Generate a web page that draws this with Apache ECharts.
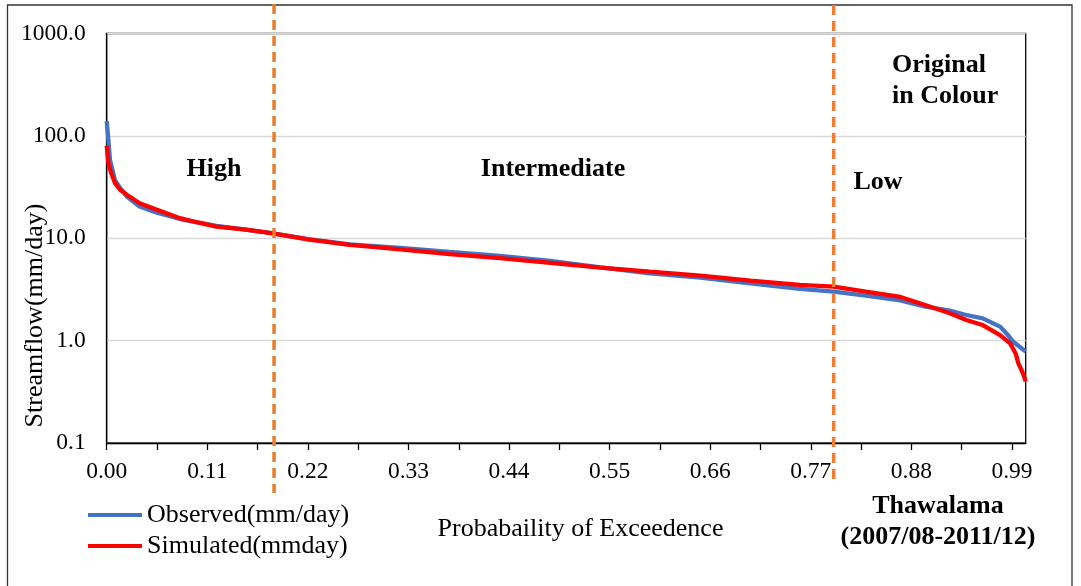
<!DOCTYPE html>
<html>
<head>
<meta charset="utf-8">
<script src="https://cdn.jsdelivr.net/npm/echarts@6/dist/echarts.min.js"></script>
<style>
html,body{margin:0;padding:0;background:#fff;}
#chart{width:1081px;height:586px;}
</style>
</head>
<body>
<div id="chart"></div>
<script>
// Exceedance probabilities and flows (mm/day)
const obsProb = [0, 0.0018, 0.0036, 0.009, 0.0146, 0.022, 0.036, 0.055, 0.08, 0.102, 0.12, 0.15, 0.18, 0.22, 0.266, 0.321, 0.375, 0.43, 0.485, 0.54, 0.594, 0.649, 0.704, 0.758, 0.795, 0.83, 0.868, 0.895, 0.922, 0.94, 0.958, 0.977, 0.985, 0.991, 1.005];
const obsFlow = [139, 92, 58, 37, 31, 25.6, 20.4, 17.8, 15.4, 14.1, 13.2, 12.2, 11.2, 9.8, 8.7, 8.05, 7.36, 6.73, 6.0, 5.2, 4.55, 4.13, 3.63, 3.2, 3.01, 2.75, 2.47, 2.15, 1.96, 1.78, 1.65, 1.37, 1.15, 0.98, 0.78];
const simProb = [0, 0.0018, 0.0036, 0.009, 0.0146, 0.022, 0.036, 0.055, 0.08, 0.102, 0.12, 0.15, 0.18, 0.22, 0.266, 0.321, 0.375, 0.43, 0.485, 0.54, 0.594, 0.649, 0.704, 0.758, 0.795, 0.83, 0.868, 0.895, 0.922, 0.94, 0.958, 0.977, 0.988, 0.994, 0.997, 1.002, 1.005];
const simFlow = [80, 55, 47, 34.6, 29.8, 26.6, 22, 19, 15.7, 14.1, 13, 12.2, 11.2, 9.76, 8.6, 7.8, 7.0, 6.4, 5.75, 5.17, 4.72, 4.31, 3.86, 3.5, 3.37, 3.01, 2.67, 2.23, 1.85, 1.59, 1.42, 1.13, 0.94, 0.75, 0.6, 0.48, 0.40];
const xTickValues = [0, 0.055, 0.11, 0.165, 0.22, 0.275, 0.33, 0.385, 0.44, 0.495, 0.55, 0.605, 0.66, 0.715, 0.77, 0.825, 0.88, 0.935, 0.99];
const xLabelValues = [0, 0.11, 0.22, 0.33, 0.44, 0.55, 0.66, 0.77, 0.88, 0.99];
const regionBounds = [0.183, 0.795];
const regionLabels = ['High', 'Intermediate', 'Low'];
const seriesNames = ['Observed(mm/day)', 'Simulated(mmday)'];

const FONT = "'Liberation Serif','Times New Roman',serif";
const chart = echarts.init(document.getElementById('chart'), null, {renderer: 'canvas'});

const pair = (xs, ys) => xs.map((x, i) => [x, ys[i]]);

chart.setOption({
  animation: false,
  backgroundColor: '#fff',
  grid: {left: 106.7, right: 55.3, top: 33.5, bottom: 143, show: true, borderColor: '#000', borderWidth: 1.3, backgroundColor: 'transparent'},
  legend: {
    orient: 'vertical', left: 83, top: 497, itemWidth: 54, itemHeight: 4, itemGap: 5, icon: 'rect',
    textStyle: {fontFamily: FONT, fontSize: 26, color: '#000'},
    data: seriesNames
  },
  xAxis: {
    type: 'value', min: 0, max: 1.005,
    axisLine: {show: true, lineStyle: {color: '#000', width: 1.3}},
    axisTick: {show: true, length: 7, lineStyle: {color: '#000', width: 1.3}, customValues: xTickValues},
    axisLabel: {customValues: xLabelValues, formatter: v => v.toFixed(2), fontFamily: FONT, fontSize: 23.5, color: '#000', margin: 17},
    splitLine: {show: false}
  },
  yAxis: {
    type: 'log', logBase: 10, min: 0.1, max: 1000,
    axisLine: {show: true, lineStyle: {color: '#000', width: 1.3}},
    axisTick: {show: false},
    axisLabel: {formatter: v => Number(v).toFixed(1), fontFamily: FONT, fontSize: 23.5, color: '#000', margin: 21},
    splitLine: {show: true, lineStyle: {color: '#d9d9d9', width: 1.3}},
    minorTick: {show: false}
  },
  series: [
    {name: seriesNames[0], type: 'line', data: pair(obsProb, obsFlow), showSymbol: false, symbol: 'none', color: '#4472C4', lineStyle: {width: 4.3, color: '#4472C4'}, z: 2},
    {name: seriesNames[1], type: 'line', data: pair(simProb, simFlow), showSymbol: false, symbol: 'none', color: '#FF0000', lineStyle: {width: 4.3, color: '#FF0000'}, z: 3}
  ]
});

const x1 = chart.convertToPixel({xAxisIndex: 0}, regionBounds[0]);
const x2 = chart.convertToPixel({xAxisIndex: 0}, regionBounds[1]);
const txt = (x, y, s, bold, align, size) => ({
  type: 'text', x: x, y: y, z: 50,
  style: {text: s, fontFamily: FONT, fontSize: size || 26, fontWeight: bold ? 'bold' : 'normal', fill: '#000', align: align || 'center', verticalAlign: 'middle', lineHeight: 31}
});

chart.setOption({
  graphic: [
    {type: 'rect', shape: {x: 7.5, y: 5, width: 1064.5, height: 620}, style: {fill: 'none', stroke: '#333', lineWidth: 1.3}, z: 1, silent: true},
    {type: 'line', shape: {x1: x1, y1: 4, x2: x1, y2: 493}, style: {stroke: '#ED7D31', lineWidth: 3.5, lineDash: [10, 6]}, z: 40},
    {type: 'line', shape: {x1: x2, y1: 5, x2: x2, y2: 480}, style: {stroke: '#ED7D31', lineWidth: 3.5, lineDash: [10, 6]}, z: 40},
    txt(214, 169, regionLabels[0], true),
    txt(553, 169, regionLabels[1], true),
    txt(878, 182, regionLabels[2], true),
    txt(892, 81, 'Original\nin Colour', true, 'left'),
    txt(938, 522, 'Thawalama\n(2007/08-2011/12)', true),
    txt(580.5, 529, 'Probabaility of Exceedence', false),
    {type: 'text', x: 35, y: 315.5, rotation: Math.PI / 2, z: 50,
     style: {text: 'Streamflow(mm/day)', fontFamily: FONT, fontSize: 26, fill: '#000', align: 'center', verticalAlign: 'middle'}}
  ]
});
</script>
</body>
</html>
